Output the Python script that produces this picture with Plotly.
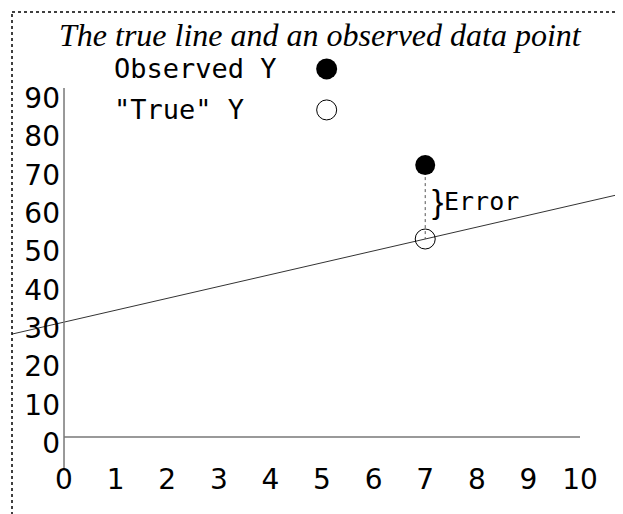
import plotly.graph_objects as go

# ---- data ----
title_text = "The true line and an observed data point"
x_ticks = [0, 1, 2, 3, 4, 5, 6, 7, 8, 9, 10]
y_ticks = [0, 10, 20, 30, 40, 50, 60, 70, 80, 90]
true_intercept = 30
true_slope = 3.1
obs_x = [7]
obs_y = [71]
legend_labels = ["Observed Y", "\"True\" Y"]
error_label = "Error"

# page has an 8px body margin, so the figure is 8px smaller than the window
W, H = 615, 506
ML, MT = 4, 4
x_range = [-1.008, 10.833]
y_range = [-20.1, 110.97]

true_y = [true_intercept + true_slope * x for x in obs_x]
line_x = [x_range[0], x_range[1]]
line_y = [true_intercept + true_slope * x for x in line_x]

fig = go.Figure()

# true line
fig.add_trace(go.Scatter(x=line_x, y=line_y, mode="lines",
                         line=dict(color="#333333", width=1), hoverinfo="skip"))
# dotted error segment
fig.add_trace(go.Scatter(x=[obs_x[0], obs_x[0]], y=[obs_y[0], true_y[0]], mode="lines",
                         line=dict(color="#555555", width=1, dash="dot"), hoverinfo="skip"))
# observed point
fig.add_trace(go.Scatter(x=obs_x, y=obs_y, mode="markers",
                         marker=dict(size=20, color="black", line=dict(width=0))))
# true point
fig.add_trace(go.Scatter(x=obs_x, y=true_y, mode="markers",
                         marker=dict(size=20, color="rgba(0,0,0,0)",
                                     line=dict(width=1, color="black"))))

# custom legend keys
leg_x = 5.09
leg_y = [96.1, 85.4]
fig.add_trace(go.Scatter(x=[leg_x], y=[leg_y[0]], mode="markers",
                         marker=dict(size=21, color="black", line=dict(width=0))))
fig.add_trace(go.Scatter(x=[leg_x], y=[leg_y[1]], mode="markers",
                         marker=dict(size=20, color="rgba(0,0,0,0)",
                                     line=dict(width=1, color="black"))))

mono = "DejaVu Sans Mono"
annotations = [
    dict(x=0.93, y=leg_y[0], xref="x", yref="y", text=legend_labels[0], showarrow=False,
         xanchor="left", yanchor="middle", font=dict(family=mono, size=27, color="black")),
    dict(x=0.93, y=leg_y[1], xref="x", yref="y", text=legend_labels[1], showarrow=False,
         xanchor="left", yanchor="middle", font=dict(family=mono, size=27, color="black")),
    dict(x=7.24, y=61.5, xref="x", yref="y", text="}", showarrow=False,
         xanchor="center", yanchor="middle", font=dict(family="Liberation Sans", size=34, color="black")),
    dict(x=7.33, y=61.5, xref="x", yref="y", text=error_label, showarrow=False,
         xanchor="left", yanchor="middle", font=dict(family=mono, size=25, color="black")),
    dict(x=0.505, y=1.0, xref="paper", yref="paper", text=title_text, showarrow=False,
         xanchor="center", yanchor="top", yshift=-3,
         font=dict(family="Liberation Serif", size=32, color="black", style="italic")),
]

shapes = [
    # y axis line
    dict(type="line", xref="x", yref="y", x0=0, x1=0, y0=-8.1, y1=91.1,
         line=dict(color="#777777", width=1.5)),
    # zero line
    dict(type="line", xref="x", yref="y", x0=0, x1=10, y0=0, y1=0,
         line=dict(color="#777777", width=1.5)),
    # dotted frame
    dict(type="line", xref="paper", yref="paper", x0=0, x1=1.05, y0=1, y1=1,
         line=dict(color="black", width=1.5, dash="dot")),
    dict(type="line", xref="paper", yref="paper", x0=0, x1=0, y0=-0.05, y1=1,
         line=dict(color="black", width=1.5, dash="dot")),
]

plot_w = W - ML
plot_h = H - MT
pos_y_axis = (56 - ML) / plot_w
pos_x_axis = (H - 452) / plot_h

fig.update_layout(
    width=W, height=H,
    margin=dict(l=ML, r=0, t=MT, b=0, pad=0, autoexpand=False),
    paper_bgcolor="white", plot_bgcolor="white",
    showlegend=False,
    annotations=annotations,
    shapes=shapes,
    xaxis=dict(range=x_range, tickmode="array", tickvals=x_ticks,
               ticktext=[str(v) for v in x_ticks],
               showgrid=False, zeroline=False, showline=False, ticks="",
               anchor="free", position=pos_x_axis, side="bottom",
               tickfont=dict(family="DejaVu Sans", size=28, color="black")),
    yaxis=dict(range=y_range, tickmode="array", tickvals=y_ticks,
               ticktext=[str(v) for v in y_ticks],
               showgrid=False, zeroline=False, showline=False, ticks="",
               anchor="free", position=pos_y_axis, side="left",
               ticklabelshift=6, ticklabelstandoff=4,
               tickfont=dict(family="DejaVu Sans", size=28, color="black")),
)

fig.write_html("out.html")
